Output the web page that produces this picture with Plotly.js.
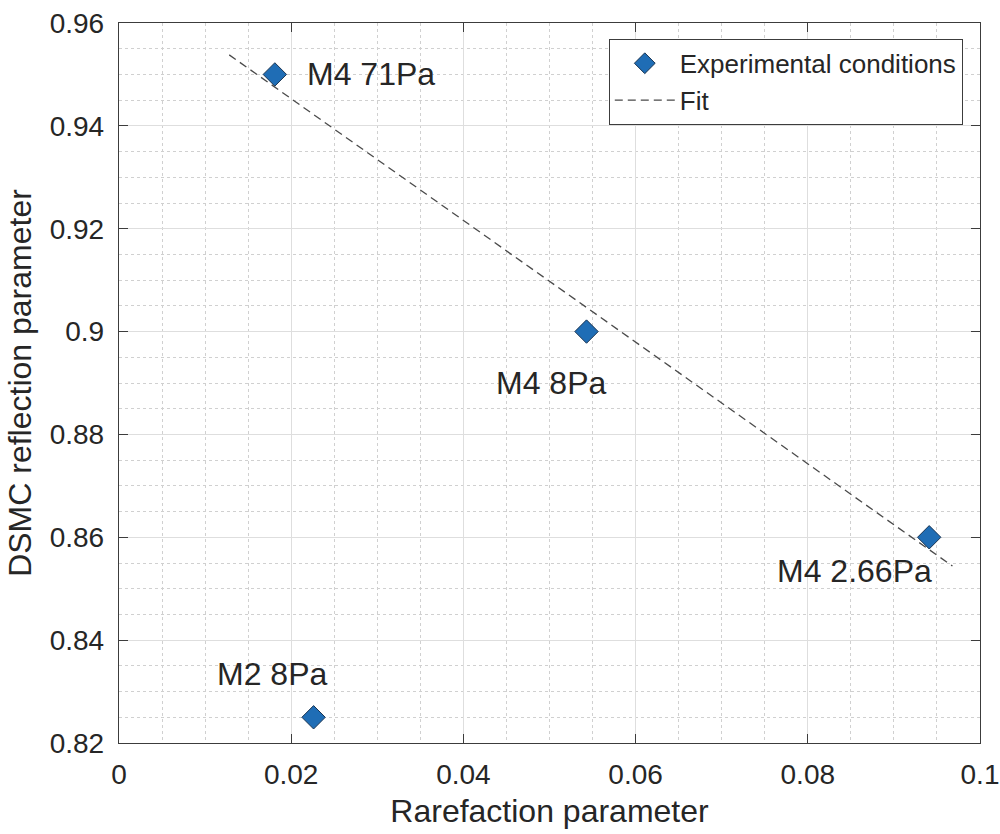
<!DOCTYPE html>
<html>
<head>
<meta charset="utf-8">
<script src="https://cdn.plot.ly/plotly-3.0.1.min.js"></script>
<style>
  html, body { margin: 0; padding: 0; background: #ffffff; }
  #chart { width: 1000px; height: 834px; }
</style>
</head>
<body>
<div id="chart"></div>
<script>
// Measured cases: rarefaction parameter vs. DSMC reflection parameter
const caseNames = ['M4 71Pa', 'M4 8Pa', 'M4 2.66Pa', 'M2 8Pa'];
const rarefaction = [0.0181, 0.0543, 0.0941, 0.0226];
const reflection = [0.950, 0.900, 0.860, 0.825];

// Straight-line fit through the M4 cases (end points)
const fitX = [0.0128, 0.0968];
const fitY = [0.9538, 0.8544];

const xTicks = [0, 0.02, 0.04, 0.06, 0.08, 0.1];
const xTickText = ['0', '0.02', '0.04', '0.06', '0.08', '0.1'];
const yTicks = [0.82, 0.84, 0.86, 0.88, 0.9, 0.92, 0.94, 0.96];
const yTickText = ['0.82', '0.84', '0.86', '0.88', '0.9', '0.92', '0.94', '0.96'];

const FONT = 'Liberation Sans, Arial, Helvetica, sans-serif';
const INK = '#262626';

// Per-label placement (pixel offsets from each marker)
const labelStyle = [
  { xanchor: 'left',   xshift: 30,  yshift: 0 },
  { xanchor: 'center', xshift: -36, yshift: -51 },
  { xanchor: 'center', xshift: -75, yshift: -34 },
  { xanchor: 'center', xshift: -42, yshift: 43 }
];

const traces = [
  {
    x: rarefaction,
    y: reflection,
    mode: 'markers',
    type: 'scatter',
    name: 'Experimental conditions',
    marker: {
      symbol: 'diamond',
      size: 18,
      color: '#1f6db5',
      line: { color: '#1b3552', width: 1 }
    },
    hoverinfo: 'x+y'
  },
  {
    x: fitX,
    y: fitY,
    mode: 'lines',
    type: 'scatter',
    name: 'Fit',
    line: { color: '#4a4a4a', width: 1.3, dash: '8px,5px' },
    hoverinfo: 'skip'
  }
];

const annotations = caseNames.map((name, i) => ({
  x: rarefaction[i],
  y: reflection[i],
  xref: 'x',
  yref: 'y',
  text: name,
  showarrow: false,
  xanchor: labelStyle[i].xanchor,
  yanchor: 'middle',
  xshift: labelStyle[i].xshift,
  yshift: labelStyle[i].yshift,
  font: { family: FONT, size: 32, color: INK }
}));

const axisCommon = {
  showline: true,
  linecolor: '#3c3c3c',
  linewidth: 1.2,
  mirror: 'ticks',
  ticks: 'inside',
  ticklen: 9,
  tickwidth: 1.2,
  tickcolor: '#3c3c3c',
  showgrid: true,
  gridcolor: '#dedede',
  gridwidth: 1,
  zeroline: false,
  tickfont: { family: FONT, size: 28, color: INK },
  tickmode: 'array'
};

const layout = {
  width: 1000,
  height: 834,
  paper_bgcolor: '#ffffff',
  plot_bgcolor: '#ffffff',
  margin: { l: 119, r: 20, t: 23, b: 91 },
  showlegend: true,
  legend: {
    x: 0.98, y: 0.978,
    xanchor: 'right', yanchor: 'top',
    bgcolor: '#ffffff',
    bordercolor: '#3c3c3c',
    borderwidth: 1,
    itemwidth: 60,
    tracegroupgap: 0,
    font: { family: FONT, size: 26, color: INK }
  },
  xaxis: Object.assign({}, axisCommon, {
    range: [0, 0.1],
    tickvals: xTicks,
    ticktext: xTickText,
    ticklabelstandoff: 6,
    minor: { dtick: 0.005, showgrid: true, gridcolor: '#d0d0d0', griddash: 'dot', gridwidth: 1, ticks: '' },
    title: { text: 'Rarefaction parameter', font: { family: FONT, size: 32, color: INK }, standoff: 10 }
  }),
  yaxis: Object.assign({}, axisCommon, {
    range: [0.82, 0.96],
    tickvals: yTicks,
    ticktext: yTickText,
    ticklabelstandoff: 8,
    minor: { dtick: 0.005, showgrid: true, gridcolor: '#d0d0d0', griddash: 'dot', gridwidth: 1, ticks: '' },
    title: { text: 'DSMC reflection parameter', font: { family: FONT, size: 32, color: INK }, standoff: 8 }
  }),
  annotations: annotations
};

Plotly.newPlot('chart', traces, layout, { displayModeBar: false, staticPlot: true });
</script>
</body>
</html>
